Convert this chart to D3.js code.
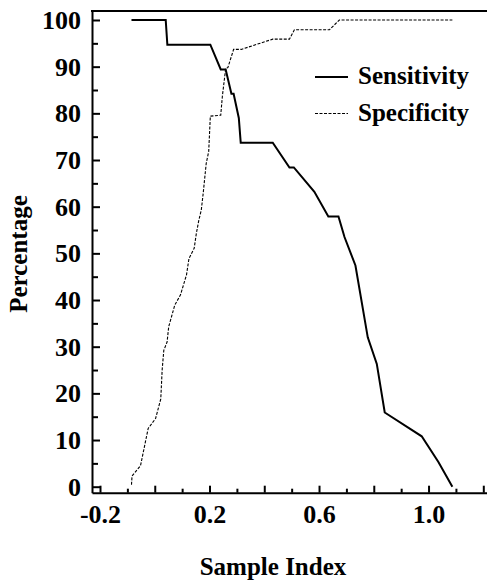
<!DOCTYPE html>
<html>
<head>
<meta charset="utf-8">
<script src="https://cdn.jsdelivr.net/npm/d3@7"></script>
<style>
  body { margin: 0; background: #fff; }
  svg { display: block; }
</style>
</head>
<body>
<svg id="chart" width="487" height="580"></svg>
<script>
// sample index / percentage pairs
const sensitivity = [
  [-0.085, 100], [0.040, 100], [0.046, 94.7], [0.203, 94.7], [0.241, 89.4],
  [0.259, 89.4], [0.280, 84.2], [0.288, 84.2], [0.307, 79.0], [0.314, 73.7],
  [0.431, 73.7], [0.492, 68.4], [0.508, 68.4], [0.583, 63.2], [0.634, 57.9],
  [0.671, 57.9], [0.693, 53.5], [0.733, 47.4], [0.778, 32.0], [0.811, 26.3],
  [0.840, 15.9], [0.975, 10.8], [1.036, 5.3], [1.087, 0]
];
const specificity = [
  [-0.085, 0.4], [-0.083, 2.3], [-0.052, 4.5], [-0.024, 12.5], [0.003, 14.6],
  [0.022, 18.8], [0.027, 25.0], [0.033, 29.2], [0.045, 31.0], [0.051, 34.3],
  [0.073, 38.9], [0.094, 41.1], [0.116, 45.4], [0.125, 48.9], [0.144, 51.1],
  [0.152, 54.3], [0.161, 57.1], [0.170, 59.3], [0.177, 62.9], [0.188, 69.3],
  [0.197, 71.8], [0.203, 79.4], [0.241, 79.6], [0.247, 83.7], [0.259, 89.6],
  [0.267, 89.8], [0.288, 93.7], [0.316, 93.7], [0.431, 95.9], [0.492, 95.9],
  [0.510, 97.9], [0.638, 97.9], [0.674, 100], [1.087, 100]
];
const seriesNames = ["Sensitivity", "Specificity"];
const yTicks = d3.range(0, 101, 10);
const yMinorTicks = d3.range(5, 100, 10);
const xTicks = [-0.2, 0, 0.2, 0.4, 0.6, 0.8, 1.0, 1.2];
const xMinorTicks = [-0.1, 0.1, 0.3, 0.5, 0.7, 0.9, 1.1];
const xTickLabels = [-0.2, 0.2, 0.6, 1.0];

const svg = d3.select("#chart");
const plotLeft = 92, plotRight = 492, plotTop = 11, plotBottom = 492.7;
const serif = '"Liberation Serif", "Times New Roman", serif';

const x = d3.scaleLinear()
  .domain([-0.2, 1.2])
  .range([100, 483.3]);
x.domain([x.invert(plotLeft), x.invert(plotRight)]).range([plotLeft, plotRight]);

const y = d3.scaleLinear()
  .domain([0, 100])
  .range([486.7, 20]);
y.domain([y.invert(plotBottom), y.invert(plotTop)]).range([plotBottom, plotTop]);

const fmtX = d => xTickLabels.some(v => Math.abs(v - d) < 1e-9) ? d3.format(".1f")(d).replace("−", "-") : "";

// x axis: major + minor ticks pointing up
svg.append("g")
  .attr("transform", `translate(0,${plotBottom})`)
  .call(d3.axisBottom(x).tickValues(xMinorTicks).tickSize(-4).tickSizeOuter(0).tickFormat(""))
  .call(g => g.select(".domain").remove())
  .selectAll("line").attr("stroke-width", 2);

svg.append("g")
  .attr("transform", `translate(0,${plotBottom})`)
  .call(d3.axisBottom(x).tickValues(xTicks).tickSize(-7).tickSizeOuter(0).tickPadding(12).tickFormat(fmtX))
  .call(g => g.select(".domain").attr("stroke-width", 2))
  .call(g => g.selectAll("line").attr("stroke-width", 2))
  .call(g => g.selectAll("text").style("font-size", "26px").attr("dy", "0.71em"));

// y axis: major + minor ticks pointing right
svg.append("g")
  .attr("transform", `translate(${plotLeft},0)`)
  .call(d3.axisLeft(y).tickValues(yMinorTicks).tickSize(-6).tickSizeOuter(0).tickFormat(""))
  .call(g => g.select(".domain").remove())
  .selectAll("line").attr("stroke-width", 2);

svg.append("g")
  .attr("transform", `translate(${plotLeft},0)`)
  .call(d3.axisLeft(y).tickValues(yTicks).tickSize(-8).tickSizeOuter(0).tickPadding(11))
  .call(g => g.select(".domain").attr("stroke-width", 2))
  .call(g => g.selectAll("line").attr("stroke-width", 2))
  .call(g => g.selectAll("text").style("font-size", "26px").attr("dy", "0.33em"));

// top frame
svg.append("line")
  .attr("x1", plotLeft - 1).attr("x2", 487)
  .attr("y1", plotTop).attr("y2", plotTop)
  .attr("stroke", "#000").attr("stroke-width", 2);

const line = d3.line().x(d => x(d[0])).y(d => y(d[1]));

svg.append("path")
  .datum(specificity)
  .attr("d", line)
  .attr("fill", "none")
  .attr("stroke", "#000")
  .attr("stroke-width", 1.1)
  .attr("stroke-dasharray", "3,1.5");

svg.append("path")
  .datum(sensitivity)
  .attr("d", line)
  .attr("fill", "none")
  .attr("stroke", "#000")
  .attr("stroke-width", 2);

// legend
const legend = svg.append("g");
seriesNames.forEach((name, i) => {
  const ly = 77 + i * 36.5;
  legend.append("line")
    .attr("x1", 315).attr("x2", 348)
    .attr("y1", ly).attr("y2", ly)
    .attr("stroke", "#000")
    .attr("stroke-width", i === 0 ? 2 : 1.1)
    .attr("stroke-dasharray", i === 0 ? null : "3,1.5");
  legend.append("text")
    .attr("x", 358).attr("y", ly + 7)
    .style("font-size", "25px")
    .text(name);
});

// axis titles
svg.append("text")
  .attr("x", 273).attr("y", 575)
  .attr("text-anchor", "middle")
  .style("font-size", "25px")
  .text("Sample Index");

svg.append("text")
  .attr("transform", "translate(27,254) rotate(-90)")
  .attr("text-anchor", "middle")
  .style("font-size", "25px")
  .text("Percentage");

svg.selectAll("text")
  .style("font-family", serif)
  .style("font-weight", "bold")
  .attr("fill", "#000");
</script>
</body>
</html>
